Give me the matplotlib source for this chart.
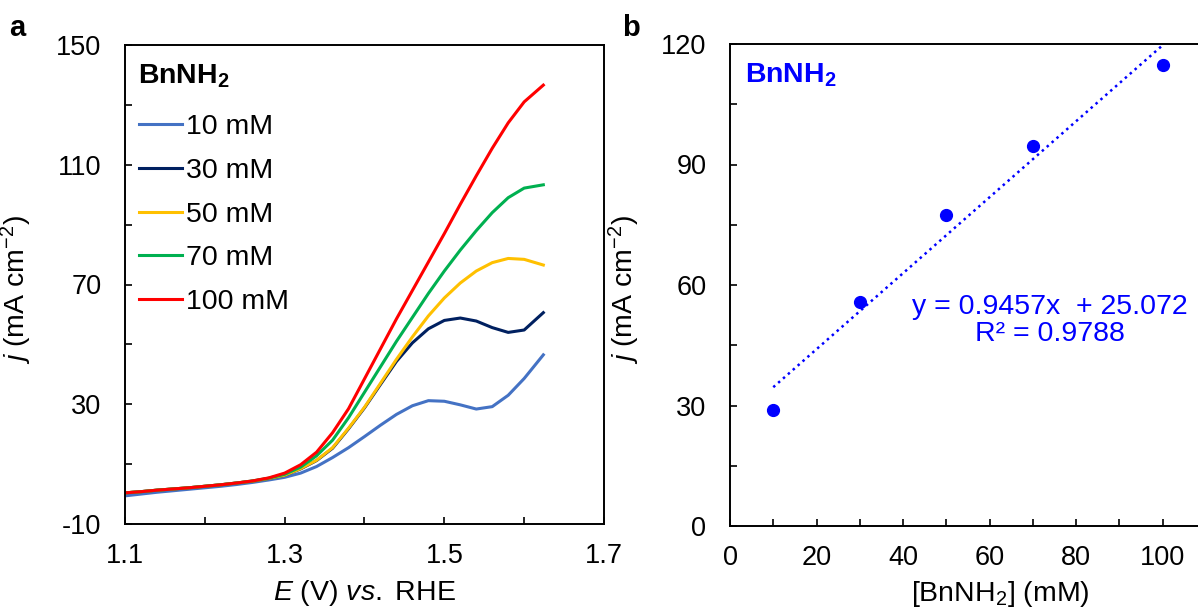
import numpy as np
import matplotlib
matplotlib.use("Agg")
import matplotlib.pyplot as plt
from matplotlib.ticker import MultipleLocator

plt.rcParams['font.family'] = ['Liberation Sans', 'DejaVu Sans']
plt.rcParams['mathtext.fontset'] = 'custom'
plt.rcParams['mathtext.rm'] = 'Liberation Sans'
plt.rcParams['mathtext.it'] = 'Liberation Sans:italic'
plt.rcParams['mathtext.bf'] = 'Liberation Sans:bold'
plt.rcParams['axes.unicode_minus'] = False

# panel a: LSV curves, potential (V vs RHE) and current density (mA cm-2)
E = [1.10, 1.12, 1.14, 1.16, 1.18, 1.20, 1.22, 1.24, 1.26, 1.28, 1.30, 1.32, 1.34,
     1.36, 1.38, 1.40, 1.42, 1.44, 1.46, 1.48, 1.50, 1.52, 1.54, 1.56, 1.58, 1.60, 1.624]
j_10 = [-0.6, 0.0, 0.6, 1.1, 1.6, 2.1, 2.6, 3.2, 3.9, 4.7, 5.6, 7.0, 9.2,
        12.2, 15.5, 19.2, 23.0, 26.6, 29.5, 31.2, 31.0, 29.8, 28.4, 29.2, 33.0, 38.6, 46.5]
j_30 = [0.4, 0.8, 1.3, 1.7, 2.1, 2.6, 3.1, 3.7, 4.3, 5.2, 6.3, 8.4, 11.2,
        15.3, 21.8, 28.8, 36.6, 44.3, 50.5, 55.2, 58.0, 58.8, 57.8, 55.6, 54.0, 54.8, 60.6]
j_50 = [0.4, 0.8, 1.3, 1.7, 2.1, 2.6, 3.1, 3.7, 4.3, 5.2, 6.3, 8.5, 11.3,
        15.5, 22.0, 29.0, 37.0, 45.0, 52.5, 59.5, 65.5, 70.5, 74.5, 77.3, 78.7, 78.4, 76.5]
j_70 = [0.4, 0.8, 1.3, 1.7, 2.1, 2.6, 3.1, 3.7, 4.4, 5.3, 6.6, 9.0, 12.8,
        18.0, 25.5, 34.0, 42.5, 51.0, 59.0, 67.0, 74.5, 81.5, 88.0, 94.0, 99.0, 102.2, 103.3]
j_100 = [0.4, 0.8, 1.3, 1.7, 2.1, 2.6, 3.1, 3.7, 4.4, 5.4, 7.0, 9.8, 14.0,
         20.5, 28.5, 38.5, 48.5, 58.5, 68.0, 77.5, 87.0, 96.8, 106.3, 115.5, 124.0, 131.0, 136.6]

labels = ['10 mM', '30 mM', '50 mM', '70 mM', '100 mM']
colors = ['#4472C4', '#002060', '#FFC000', '#00B050', '#FF0000']

# panel b: current density vs concentration
conc = [10, 30, 50, 70, 100]
j_conc = [28.9, 55.8, 77.4, 94.6, 114.8]

fig = plt.figure(figsize=(11.98, 6.15), dpi=100)
ax1 = fig.add_axes([125/1198, 91/615, 479/1198, 479/615])
ax2 = fig.add_axes([730/1198, 89/615, 476/1198, 482/615])

for ax in (ax1, ax2):
    for s in ax.spines.values():
        s.set_linewidth(1.4)
    ax.tick_params(which='both', direction='in', top=False, right=False,
                   length=5, width=1.2, labelsize=19.5)

# --- panel a ---
for y, lab, c in zip([j_10, j_30, j_50, j_70, j_100], labels, colors):
    ax1.plot(E, y, color=c, lw=2.2, label=lab)

ax1.set_xlim(1.1, 1.7)
ax1.set_ylim(-10, 150)
ax1.set_xticks([1.1, 1.3, 1.5, 1.7])
ax1.set_xticks([1.2, 1.4, 1.6], minor=True)
ax1.set_xticklabels(['1.1', '1.3', '1.5', '1.7'])
ax1.set_yticks([-10, 30, 70, 110, 150])
ax1.set_yticks([10, 50, 90, 130], minor=True)
ax1.tick_params(axis='x', pad=14)
ax1.tick_params(axis='y', pad=17)
ax1.set_xlabel(r'$E$ (V) $vs.$ RHE', fontsize=20.5)
ax1.set_ylabel(r'$j$ (mA cm$^{-2}$)', fontsize=20.5)
ax1.xaxis.set_label_coords(0.5, -0.112)
ax1.yaxis.set_label_coords(-0.19, 0.49)

ax1.text(0.027, 0.935, r'$\mathbf{BnNH_2}$', transform=ax1.transAxes,
         fontsize=20.5, va='center', ha='left')
ax1.legend(loc='upper left', bbox_to_anchor=(0.03, 0.855), frameon=False,
           fontsize=20.5, handlelength=1.5, handletextpad=0.15,
           labelspacing=0.62, borderpad=0, borderaxespad=0)

# --- panel b ---
blue = '#0000FF'
ax2.plot(conc, j_conc, 'o', color=blue, ms=8.5)
k, b0 = np.polyfit(conc, j_conc, 1)
xf = np.array([conc[0], conc[-1]])
ax2.plot(xf, k * xf + b0, color=blue, lw=1.8, linestyle=(0, (1, 1.6)))

ax2.set_xlim(0, 110)
ax2.set_ylim(0, 120)
ax2.xaxis.set_major_locator(MultipleLocator(20))
ax2.xaxis.set_minor_locator(MultipleLocator(10))
ax2.yaxis.set_major_locator(MultipleLocator(30))
ax2.yaxis.set_minor_locator(MultipleLocator(15))
ax2.tick_params(axis='x', pad=14)
ax2.tick_params(axis='y', pad=17)
ax2.set_xlabel(r'[BnNH$_2$] (mM)', fontsize=20.5)
ax2.set_ylabel(r'$j$ (mA cm$^{-2}$)', fontsize=20.5)
ax2.xaxis.set_label_coords(0.567, -0.11)
ax2.yaxis.set_label_coords(-0.185, 0.49)

ax2.text(0.032, 0.936, r'$\mathbf{BnNH_2}$', transform=ax2.transAxes,
         fontsize=20.5, va='center', ha='left', color=blue)
ax2.text(0.672, 0.427, 'y = 0.9457x  + 25.072\nR² = 0.9788', transform=ax2.transAxes,
         fontsize=20.5, va='center', ha='center', multialignment='center',
         color=blue, linespacing=1.05)

fig.text(0.008, 0.955, 'a', fontsize=21, fontweight='bold', va='center')
fig.text(0.519, 0.955, 'b', fontsize=21, fontweight='bold', va='center')

fig.savefig('out.png', dpi=100)
